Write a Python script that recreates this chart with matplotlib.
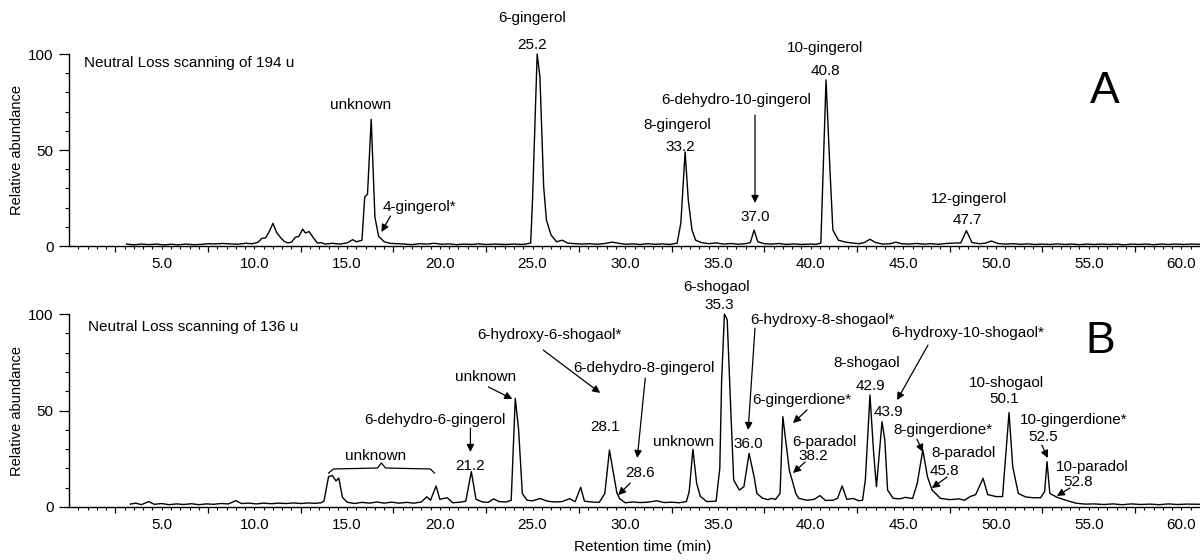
import matplotlib
matplotlib.use("Agg")
import matplotlib.pyplot as plt
from matplotlib.ticker import FixedLocator, FuncFormatter

plt.rcParams['font.family'] = ['Liberation Sans', 'DejaVu Sans']

# ---------------- data: panel A (Neutral loss 194 u) ----------------
time_a = [3.1, 3.5, 3.9, 4.3, 4.7, 5.1, 5.5, 5.9, 6.3, 6.7, 7.1, 7.5, 7.9, 8.3, 8.7, 9.1, 9.5, 9.9,
          10.2, 10.4, 10.6, 10.8, 11.0, 11.2, 11.4, 11.6, 11.8, 12.0, 12.2, 12.4, 12.6, 12.75, 12.95,
          13.2, 13.4, 13.6, 13.8, 14.2, 14.6, 15.0, 15.3, 15.5, 15.8, 15.95, 16.1, 16.3, 16.5, 16.7,
          17.0, 17.3, 17.7, 18.1, 18.5, 18.9, 19.3, 19.7, 20.1, 20.5, 20.9, 21.3, 21.7, 22.1, 22.5,
          23.0, 23.5, 24.0, 24.5, 24.9, 25.0, 25.25, 25.4, 25.6, 25.75, 26.0, 26.3, 26.6, 26.9, 27.3,
          27.7, 28.1, 28.5, 28.9, 29.3, 29.6, 30.0, 30.4, 30.8, 31.2, 31.6, 32.0, 32.4, 32.8, 33.0,
          33.23, 33.4, 33.6, 33.8, 34.1, 34.5, 34.9, 35.3, 35.7, 36.1, 36.5, 36.75, 36.95, 37.15,
          37.5, 37.9, 38.3, 38.7, 39.1, 39.5, 39.9, 40.3, 40.55, 40.83, 41.05, 41.2, 41.5, 41.9, 42.3,
          42.6, 42.9, 43.2, 43.5, 43.9, 44.3, 44.6, 44.9, 45.3, 45.7, 46.1, 46.5, 46.9, 47.3, 47.7,
          48.1, 48.4, 48.7, 49.1, 49.4, 49.75, 50.1, 50.5, 50.9, 51.3, 51.7, 52.1, 52.5, 52.9, 53.3,
          53.7, 54.1, 54.5, 54.9, 55.3, 55.7, 56.1, 56.5, 56.9, 57.3, 57.7, 58.1, 58.5, 58.9, 59.3,
          59.7, 60.1, 60.5, 61.0]
abund_a = [1.0, 0.6, 1.0, 0.7, 1.0, 0.6, 0.9, 0.6, 1.0, 0.7, 0.8, 1.2, 1.1, 1.3, 1.1, 0.9, 1.4, 1.2,
           2.0, 4.0, 4.2, 7.5, 11.8, 7.0, 4.5, 2.5, 1.6, 2.0, 4.5, 5.0, 8.8, 6.8, 7.5,
           4.0, 1.5, 1.8, 1.0, 1.4, 1.0, 1.6, 3.3, 2.2, 3.0, 25.5, 27.0, 66.0, 15.0, 5.0,
           2.2, 1.4, 1.2, 1.0, 0.7, 1.2, 1.0, 1.4, 0.9, 1.1, 0.7, 1.0, 0.8, 1.1, 0.8,
           1.0, 0.8, 1.0, 0.8, 1.5, 24.0, 100.0, 88.0, 31.0, 13.5, 5.7, 2.2, 3.0, 1.5, 1.2,
           1.0, 1.2, 0.9, 1.3, 2.0, 1.5, 0.9, 1.1, 0.8, 1.2, 0.9, 1.1, 0.8, 1.5, 12.0,
           49.0, 24.0, 8.3, 3.0, 1.8, 1.2, 1.6, 1.0, 1.3, 0.9, 1.2, 1.8, 8.3, 2.2,
           1.2, 1.0, 1.3, 0.8, 1.1, 0.8, 1.0, 0.9, 1.5, 86.5, 38.0, 8.3, 3.0, 2.0, 1.5,
           1.2, 1.8, 3.5, 1.8, 1.0, 1.2, 2.0, 1.2, 1.0, 1.3, 1.0, 1.2, 0.9, 1.3, 1.5,
           1.6, 8.0, 1.8, 1.2, 1.4, 2.6, 1.3, 1.0, 1.2, 0.9, 1.1, 0.8, 1.0, 0.8, 1.1,
           0.8, 1.0, 0.7, 1.0, 0.8, 1.0, 0.8, 1.0, 0.6, 1.0, 0.8, 1.0, 0.7, 1.0, 0.8,
           1.0, 0.8, 1.0, 0.9]

# ---------------- data: panel B (Neutral loss 136 u) ----------------
time_b = [3.3, 3.6, 3.9, 4.3, 4.6, 5.0, 5.4, 5.8, 6.2, 6.6, 7.0, 7.4, 7.8, 8.2, 8.6, 9.0, 9.3, 9.7,
          10.1, 10.5, 10.9, 11.3, 11.7, 12.1, 12.5, 12.9, 13.3, 13.6, 13.75, 14.0, 14.2, 14.4, 14.55,
          14.75, 15.0, 15.4, 15.8, 16.2, 16.6, 17.0, 17.4, 17.8, 18.2, 18.6, 19.0, 19.3, 19.5, 19.8,
          20.0, 20.4, 20.7, 21.1, 21.4, 21.7, 21.95, 22.3, 22.6, 22.9, 23.2, 23.6, 23.85, 24.07,
          24.25, 24.45, 24.7, 25.0, 25.4, 25.8, 26.2, 26.6, 27.0, 27.3, 27.6, 27.8, 28.2, 28.6, 28.9,
          29.15, 29.3, 29.55, 29.7, 30.0, 30.4, 30.8, 31.2, 31.7, 32.1, 32.5, 32.9, 33.3, 33.45,
          33.65, 33.85, 34.05, 34.4, 34.9, 35.1, 35.2, 35.35, 35.5, 35.7, 35.85, 36.15, 36.4, 36.68,
          36.95, 37.1, 37.4, 37.7, 37.9, 38.1, 38.35, 38.5, 38.7, 38.85, 39.0, 39.2, 39.35, 39.8,
          40.2, 40.5, 40.8, 41.2, 41.45, 41.7, 41.95, 42.3, 42.6, 42.8, 42.95, 43.2, 43.4, 43.55,
          43.85, 44.0, 44.15, 44.45, 44.8, 45.1, 45.5, 45.75, 46.05, 46.3, 46.55, 47.0, 47.5, 48.0,
          48.3, 48.6, 48.9, 49.3, 49.55, 50.0, 50.35, 50.7, 50.9, 51.2, 51.6, 52.0, 52.4, 52.62,
          52.75, 52.9, 53.3, 53.8, 54.3, 54.8, 55.3, 55.8, 56.3, 56.8, 57.3, 57.8, 58.3, 58.8, 59.3,
          59.8, 60.3, 61.0]
abund_b = [1.5, 2.0, 1.2, 2.8, 1.4, 1.8, 1.2, 1.6, 1.3, 1.7, 1.2, 1.6, 1.4, 1.8, 1.6, 3.3, 1.8, 2.0,
           1.6, 2.0, 1.7, 2.0, 1.8, 2.1, 1.8, 2.1, 1.9, 2.2, 3.0, 15.7, 16.3, 13.5, 15.0,
           5.0, 2.5, 1.8, 2.4, 2.0, 2.6, 2.0, 2.5, 2.0, 2.4, 2.0, 2.6, 5.3, 3.5, 10.9,
           4.0, 4.8, 2.2, 2.5, 3.0, 18.3, 4.0, 2.6, 2.4, 4.2, 2.8, 2.6, 3.5, 56.3,
           40.0, 7.0, 3.5, 3.2, 4.4, 3.0, 2.6, 2.8, 4.3, 2.8, 10.2, 3.0, 2.6, 2.4, 7.0,
           29.5, 21.0, 7.3, 4.3, 2.2, 2.6, 2.3, 2.5, 3.2, 2.3, 2.5, 2.2, 2.8, 8.0,
           29.9, 12.4, 5.5, 2.8, 3.0, 20.0, 65.8, 100.0, 97.0, 48.6, 14.0, 8.8, 10.5, 27.8,
           15.7, 7.0, 4.6, 3.8, 4.5, 3.9, 7.0, 46.8, 31.0, 19.0, 14.0, 7.0, 4.5, 3.5,
           4.0, 5.9, 3.4, 3.5, 4.5, 10.9, 4.0, 4.4, 3.2, 3.5, 14.0, 58.0, 27.8, 10.5,
           44.2, 34.7, 8.8, 4.5, 4.2, 5.0, 4.4, 12.3, 29.5, 15.7, 8.8, 4.5, 3.8, 4.2,
           3.5, 5.4, 6.4, 14.9, 6.4, 5.4, 5.4, 48.9, 20.9, 7.0, 5.2, 4.8, 4.8, 8.0,
           23.5, 7.0, 5.0, 3.4, 2.0, 1.5, 1.6, 1.3, 1.6, 1.2, 1.6, 1.3, 1.5, 1.2, 1.6,
           1.3, 1.5, 1.4]

# ---------------- annotation text ----------------
# (text, time, abundance, horizontal alignment)
labels_a = [
    ("unknown", 15.72, 73.4, "center"),
    ("4-gingerol*", 16.9, 20.3, "left"),
    ("6-gingerol", 24.99, 118.8, "center"),
    ("25.2", 24.99, 104.7, "center"),
    ("8-gingerol", 32.8, 63.0, "center"),
    ("33.2", 32.96, 51.6, "center"),
    ("6-dehydro-10-gingerol", 35.98, 76.0, "center"),
    ("37.0", 37.0, 15.1, "center"),
    ("10-gingerol", 40.78, 103.0, "center"),
    ("40.8", 40.78, 91.1, "center"),
    ("12-gingerol", 48.53, 24.5, "center"),
    ("47.7", 48.43, 13.5, "center"),
]
arrows_a = [((17.34, 15.6), (16.85, 7.3)),
            ((37.0, 68.2), (37.0, 22.4))]

labels_b = [
    ("unknown", 16.53, 26.4, "center"),
    ("6-dehydro-6-gingerol", 19.71, 45.1, "center"),
    ("21.2", 21.65, 21.2, "center"),
    ("unknown", 22.46, 67.4, "center"),
    ("6-hydroxy-6-shogaol*", 25.9, 89.1, "center"),
    ("28.1", 28.92, 41.5, "center"),
    ("6-dehydro-8-gingerol", 31.02, 72.0, "center"),
    ("28.6", 30.81, 17.6, "center"),
    ("unknown", 33.13, 33.7, "center"),
    ("6-shogaol", 34.9, 114.0, "center"),
    ("35.3", 35.06, 104.7, "center"),
    ("6-hydroxy-8-shogaol*", 40.61, 96.9, "center"),
    ("36.0", 36.63, 32.6, "center"),
    ("6-gingerdione*", 39.54, 55.4, "center"),
    ("6-paradol", 40.72, 33.7, "center"),
    ("38.2", 40.13, 26.4, "center"),
    ("8-shogaol", 43.04, 74.6, "center"),
    ("42.9", 43.2, 62.7, "center"),
    ("6-hydroxy-10-shogaol*", 48.48, 90.2, "center"),
    ("43.9", 44.17, 49.2, "center"),
    ("8-gingerdione*", 47.13, 39.9, "center"),
    ("8-paradol", 48.27, 28.0, "center"),
    ("45.8", 47.24, 18.7, "center"),
    ("10-shogaol", 50.58, 64.2, "center"),
    ("50.1", 50.42, 56.0, "center"),
    ("10-gingerdione*", 54.19, 45.1, "center"),
    ("52.5", 52.52, 36.3, "center"),
    ("10-paradol", 55.21, 20.7, "center"),
    ("52.8", 54.41, 13.0, "center"),
]
arrows_b = [((21.65, 40.9), (21.65, 28.5)),
            ((22.62, 62.2), (23.91, 56.0)),
            ((25.58, 81.3), (28.65, 59.1)),
            ((31.08, 66.8), (30.65, 25.4)),
            ((30.27, 12.4), (29.62, 6.2)),
            ((37.0, 92.7), (36.63, 39.9)),
            ((39.81, 50.3), (39.05, 43.5)),
            ((39.7, 23.3), (39.05, 17.6)),
            ((46.33, 83.9), (44.66, 55.4)),
            ((45.73, 35.2), (46.06, 28.5)),
            ((47.35, 15.5), (46.54, 9.8)),
            ((52.47, 32.1), (52.79, 25.4)),
            ((53.98, 9.8), (53.28, 5.7))]
bracket_t = [14.0, 14.27, 16.64, 16.85, 17.07, 19.49, 19.71]
bracket_a = [17.6, 19.7, 20.2, 22.8, 20.2, 19.7, 17.6]

x_labels = [5.0, 10.0, 15.0, 20.0, 25.0, 30.0, 35.0, 40.0, 45.0, 50.0, 55.0, 60.0]
x_long_ticks = [2.5, 7.5, 12.5, 17.5, 22.5, 27.5, 32.5, 37.5, 42.5, 47.5, 52.5, 57.5]
x_minor_ticks = [i * 0.5 for i in range(1, 122)]
y_major = [0, 50, 100]
y_minor = [10, 20, 30, 40, 60, 70, 80, 90]

FS = 11

fig = plt.figure(figsize=(12, 5.6), dpi=100)
ax_a = fig.add_axes([69 / 1200, 314 / 560, 1 - 69 / 1200, 192 / 560])
ax_b = fig.add_axes([69 / 1200, 53 / 560, 1 - 69 / 1200, 193 / 560])


def style(ax):
    ax.set_xlim(0.0, 61.0)
    ax.set_ylim(0, 100)
    for s in ("top", "right"):
        ax.spines[s].set_visible(False)
    for s in ("left", "bottom"):
        ax.spines[s].set_linewidth(1.0)
    ax.xaxis.set_major_locator(FixedLocator(x_long_ticks))
    ax.xaxis.set_major_formatter(FuncFormatter(lambda v, p: ""))
    ax.xaxis.set_minor_locator(FixedLocator(x_minor_ticks))
    ax.xaxis.set_minor_formatter(FuncFormatter(
        lambda v, p: ("%.1f" % v) if any(abs(v - l) < 1e-6 for l in x_labels) else ""))
    ax.tick_params(axis="x", which="major", length=4.5, width=0.9, direction="out")
    ax.tick_params(axis="x", which="minor", length=2.2, width=0.8, direction="out",
                   labelsize=FS, pad=6)
    ax.yaxis.set_major_locator(FixedLocator(y_major))
    ax.yaxis.set_minor_locator(FixedLocator(y_minor))
    ax.tick_params(axis="y", which="major", length=7, width=0.9, labelsize=FS, pad=4)
    ax.tick_params(axis="y", which="minor", length=3, width=0.8)
    ax.set_ylabel("Relative abundance", fontsize=10.5)
    ax.yaxis.set_label_coords(-0.040, 0.5)


def annotate(ax, labels, arrows):
    for txt, t, a, ha in labels:
        ax.text(t, a, txt, fontsize=FS, ha=ha, va="center", clip_on=False)
    for (t0, a0), (t1, a1) in arrows:
        ax.annotate("", xy=(t1, a1), xytext=(t0, a0), annotation_clip=False,
                    arrowprops=dict(arrowstyle="-|>", color="black", lw=0.9,
                                    mutation_scale=11, shrinkA=0, shrinkB=0))


style(ax_a)
style(ax_b)

ax_a.plot(time_a, abund_a, color="black", lw=1.0, clip_on=False)
ax_b.plot(time_b, abund_b, color="black", lw=1.0, clip_on=False)

annotate(ax_a, labels_a, arrows_a)
annotate(ax_b, labels_b, arrows_b)
ax_b.plot(bracket_t, bracket_a, color="black", lw=0.9, clip_on=False)

ax_a.text(0.8, 95.3, "Neutral Loss scanning of 194 u", fontsize=FS, ha="left", va="center")
ax_b.text(1.0, 93.3, "Neutral Loss scanning of 136 u", fontsize=FS, ha="left", va="center")
ax_a.text(55.86, 80.7, "A", fontsize=32, ha="center", va="center")
ax_b.text(55.6, 85.5, "B", fontsize=32, ha="center", va="center")

ax_b.set_xlabel("Retention time (min)", fontsize=FS)
ax_b.xaxis.set_label_coords(0.507, -0.17)

fig.savefig("out.png", dpi=100)
